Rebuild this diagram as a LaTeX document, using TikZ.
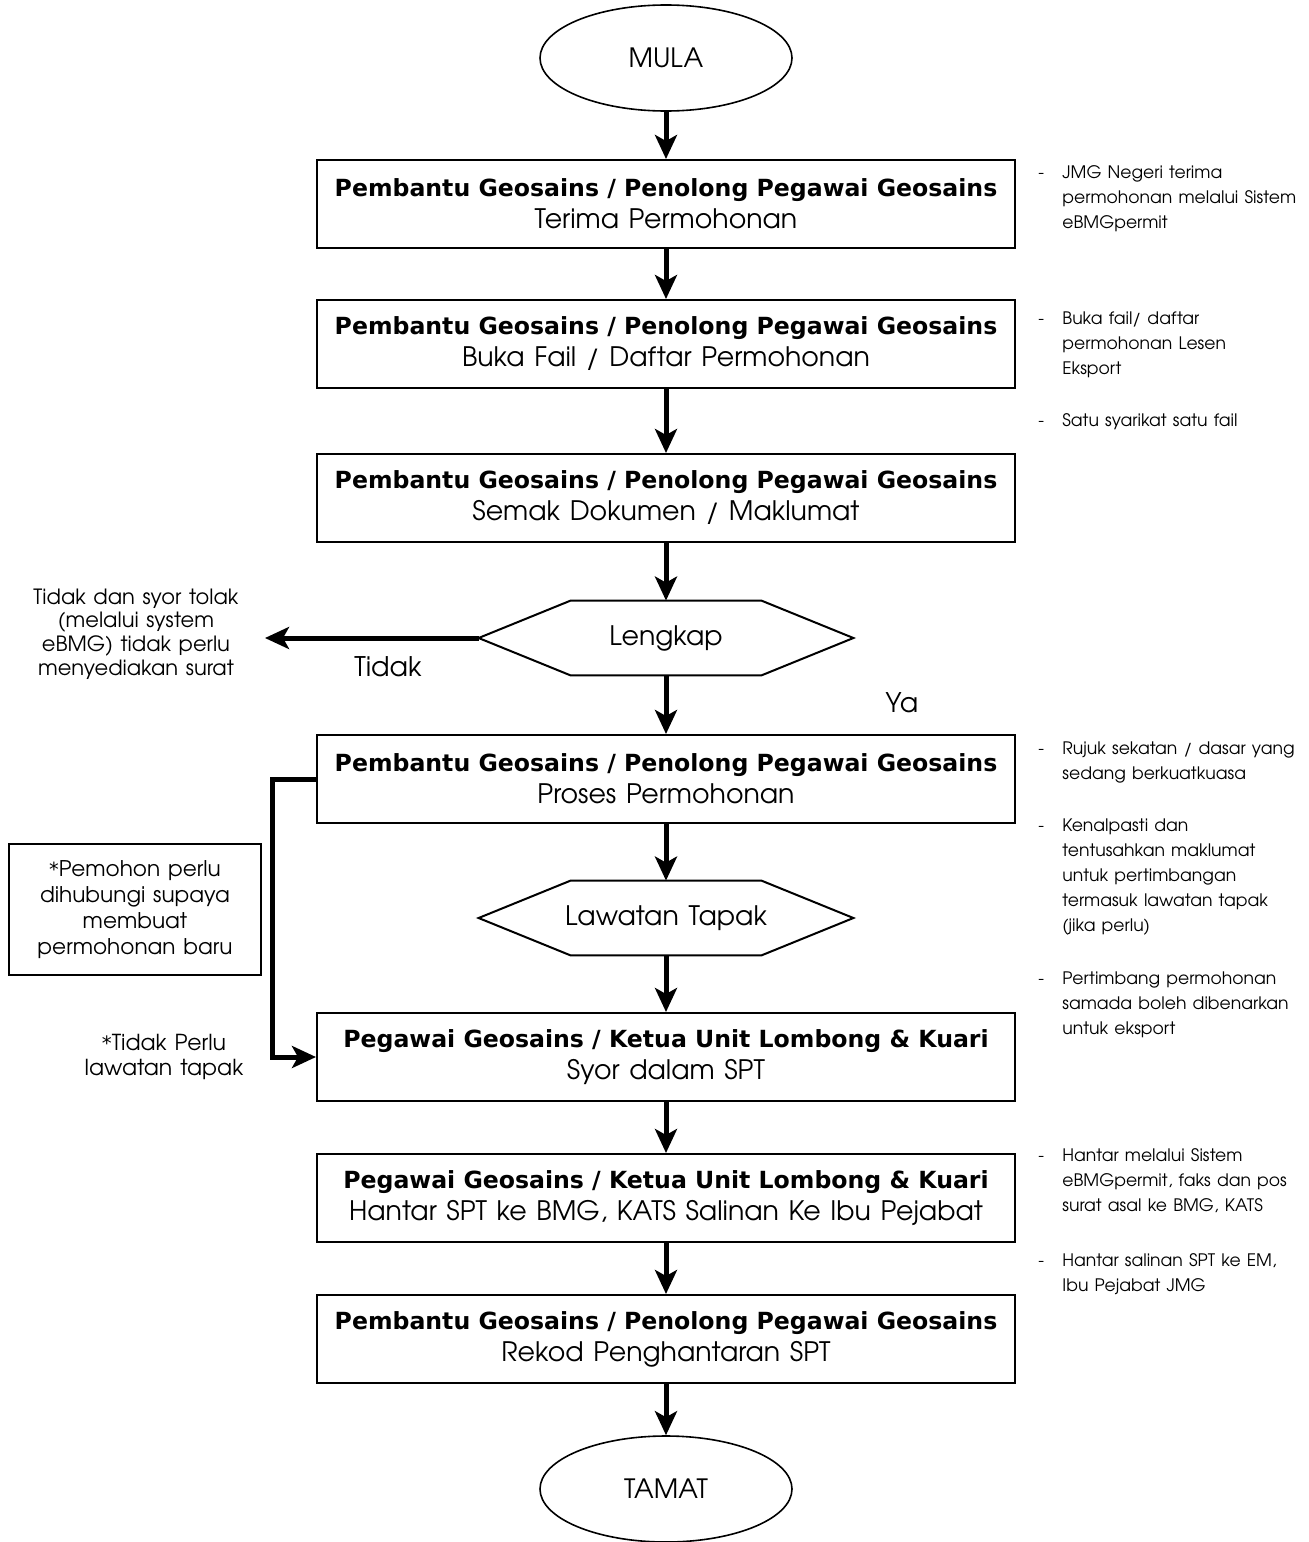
\documentclass[tikz,border=0pt]{standalone}
\usepackage{fontspec}
\setmainfont{TeX Gyre Adventor}[WordSpace=1.3]
\newfontfamily\headfont{DejaVu Sans}
\newfontfamily\starfont{DejaVu Sans}[Scale=0.9]
\usetikzlibrary{arrows.meta,calc,shapes.geometric}

% bold role line inside the process boxes
\newcommand\roleline[1]{{\headfont\bfseries\fontsize{11.8}{16}\selectfont #1}}
% side remark: dash followed by an indented block of lines
\newcommand\remark[1]{\begin{tabular}[t]{@{}p{12pt}@{}l@{}}-&#1\end{tabular}}
% light asterisk for the footnote-style labels
\newcommand\lightstar{{\starfont *}}

\begin{document}
\begin{tikzpicture}[x=0.5pt,y=-0.5pt,
  box/.style={draw, line width=1pt, minimum width=349pt, minimum height=44pt,
    align=center, inner sep=0pt, font=\fontsize{13.4}{16}\selectfont},
  term/.style={draw, line width=0.8pt, ellipse, minimum width=126pt,
    minimum height=53pt, font=\fontsize{13.3}{14}\selectfont},
  flow/.style={line width=2.5pt, -{Stealth[length=12pt,width=11pt,inset=3pt]}},
  hexspace/.style={minimum width=187pt, minimum height=37pt, inner sep=0pt,
    font=\fontsize{13.4}{14}\selectfont},
  hexline/.style={line width=1pt, line join=miter},
  note/.style={anchor=base west, inner sep=0pt, font=\fontsize{8.6}{12.5}\selectfont},
  side/.style={align=center, inner sep=0pt}
]
\useasboundingbox (0,0) rectangle (1308,1542);

% terminals
\node[term] (mula) at (666,58) {MULA};
\node[term] (tamat) at (666,1489) {TAMAT};

% process boxes
\node[box] (b1) at (666,204) {\roleline{Pembantu Geosains / Penolong Pegawai Geosains}\\Terima Permohonan};
\node[box] (b2) at (666,344) {\roleline{Pembantu Geosains / Penolong Pegawai Geosains}\\Buka Fail / Daftar Permohonan};
\node[box] (b3) at (666,498) {\roleline{Pembantu Geosains / Penolong Pegawai Geosains}\\Semak Dokumen / Maklumat};
\node[box] (b4) at (666,779) {\roleline{Pembantu Geosains / Penolong Pegawai Geosains}\\Proses Permohonan};
\node[box] (b5) at (666,1057) {\roleline{Pegawai Geosains / Ketua Unit Lombong \& Kuari}\\Syor dalam SPT};
\node[box] (b6) at (666,1198) {\roleline{Pegawai Geosains / Ketua Unit Lombong \& Kuari}\\Hantar SPT ke BMG, KATS Salinan Ke Ibu Pejabat};
\node[box] (b7) at (666,1339) {\roleline{Pembantu Geosains / Penolong Pegawai Geosains}\\Rekod Penghantaran SPT};

% decision hexagons
\node[hexspace] (lk) at (666,638) {Lengkap};
\draw[hexline] (lk.west) -- ($(lk.north west)+(92,0)$) -- ($(lk.north east)+(-92,0)$)
  -- (lk.east) -- ($(lk.south east)+(-92,0)$) -- ($(lk.south west)+(92,0)$) -- cycle;
\node[hexspace] (lt) at (666,918) {Lawatan Tapak};
\draw[hexline] (lt.west) -- ($(lt.north west)+(92,0)$) -- ($(lt.north east)+(-92,0)$)
  -- (lt.east) -- ($(lt.south east)+(-92,0)$) -- ($(lt.south west)+(92,0)$) -- cycle;

% main flow
\draw[flow] (mula.south) -- (b1.north);
\draw[flow] (b1.south) -- (b2.north);
\draw[flow] (b2.south) -- (b3.north);
\draw[flow] (b3.south) -- (lk.north);
\draw[flow] (lk.south) -- (b4.north);
\draw[flow] (b4.south) -- (lt.north);
\draw[flow] (lt.south) -- (b5.north);
\draw[flow] (b5.south) -- (b6.north);
\draw[flow] (b6.south) -- (b7.north);
\draw[flow] (b7.south) -- (tamat.north);

% rejection branch
\coordinate (rej) at (265,638);
\draw[flow] (lk.west) -- (rej);
\node[side, font=\fontsize{10.5}{11.8}\selectfont] (rejtext) at (136,634)
  {Tidak dan syor tolak\\(melalui system\\eBMG) tidak perlu\\menyediakan surat};
\node[font=\fontsize{13.5}{14}\selectfont] (tidak) at (388,667) {Tidak};
\node[font=\fontsize{13.5}{14}\selectfont] (ya) at (902,703) {Ya};

% bypass of the site visit
\draw[flow, line join=miter] (b4.west) -- ++(-44,0) |- (b5.west);
\node[draw, line width=0.8pt, minimum width=126pt, minimum height=65.5pt, align=center,
  inner sep=0pt, font=\fontsize{10.8}{12.9}\selectfont] (callbox) at (135,909.5)
  {\lightstar Pemohon perlu\\dihubungi supaya\\membuat\\permohonan baru};
\node[side, font=\fontsize{11}{12.5}\selectfont] (skip) at (164,1057)
  {\lightstar Tidak Perlu\\lawatan tapak};

% side remarks
\node[note] (n1) at (1038,178) {\remark{JMG Negeri terima\\&permohonan melalui Sistem\\&eBMGpermit}};
\node[note] (n2) at (1038,324) {\remark{Buka fail/ daftar\\&permohonan Lesen\\&Eksport}};
\node[note] (n3) at (1038,426) {\remark{Satu syarikat satu fail}};
\node[note] (n4) at (1038,754) {\remark{Rujuk sekatan / dasar yang\\&sedang berkuatkuasa}};
\node[note] (n5) at (1038,831) {\remark{Kenalpasti dan\\&tentusahkan maklumat\\&untuk pertimbangan\\&termasuk lawatan tapak\\&(jika perlu)}};
\node[note] (n6) at (1038,984) {\remark{Pertimbang permohonan\\&samada boleh dibenarkan\\&untuk eksport}};
\node[note] (n7) at (1038,1161) {\remark{Hantar melalui Sistem\\&eBMGpermit, faks dan pos\\&surat asal ke BMG, KATS}};
\node[note] (n8) at (1038,1266) {\remark{Hantar salinan SPT ke EM,\\&Ibu Pejabat JMG}};
\end{tikzpicture}
\end{document}
